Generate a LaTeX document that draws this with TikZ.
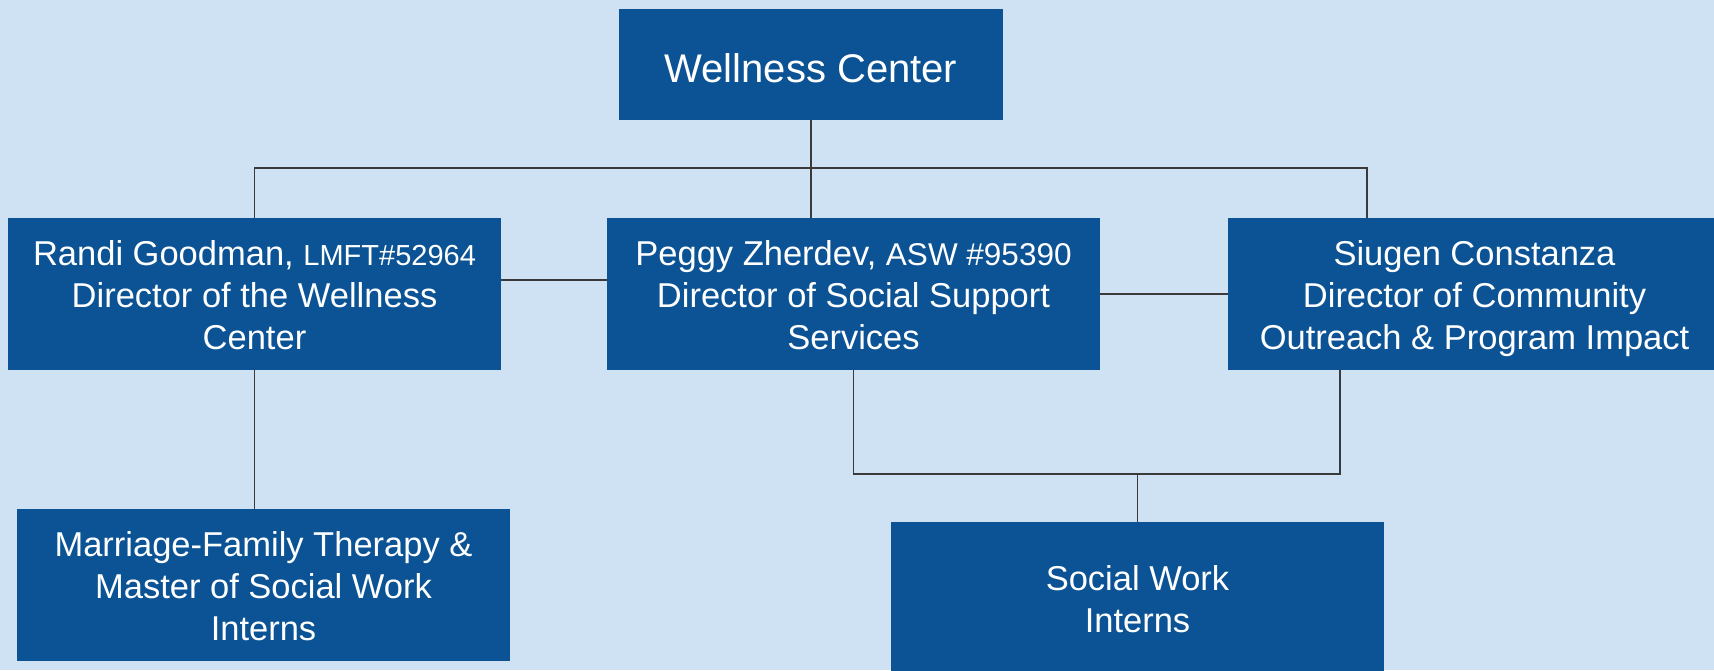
\documentclass[tikz,border=0pt]{standalone}
\usepackage{fontspec}
\setmainfont{Liberation Sans}
\definecolor{bg}{HTML}{CFE2F3}
\definecolor{boxblue}{HTML}{0B5394}
\definecolor{linegray}{HTML}{3A3A3A}
\newcommand\mystrut{\rule[-6.3pt]{0pt}{40.5pt}}
\newcommand\wcstrut{\rule[-4.1pt]{0pt}{44.7pt}}
\begin{document}
\begin{tikzpicture}[x=1pt,y=-1pt,
  orgbox/.style={fill=boxblue,text=white,inner sep=0pt,minimum width=493pt,
    minimum height=152pt,align=center,font=\fontsize{34.5}{42}\selectfont},
  link/.style={draw=linegray,line width=1.5pt}]
\useasboundingbox (0,0) rectangle (1714,670);
\fill[bg] (0,0) rectangle (1714,670);
\clip (0,0) rectangle (1714,670);

\node[orgbox,minimum width=384pt,minimum height=111pt,font=\fontsize{40}{46}\selectfont] (wc) at (811,64.5) {\wcstrut Wellness Center};
\node[orgbox] (randi) at (254.5,294) {\mystrut Randi Goodman, {\fontsize{29}{42}\selectfont LMFT\#52964}\\\mystrut Director of the Wellness\\\mystrut Center};
\node[orgbox] (peggy) at (853.5,294) {\mystrut Peggy Zherdev, {\fontsize{31.5}{42}\selectfont ASW \#95390}\\\mystrut Director of Social Support\\\mystrut Services};
\node[orgbox] (siugen) at (1474.5,294) {\mystrut Siugen Constanza\\\mystrut Director of Community\\\mystrut Outreach \& Program Impact};
\node[orgbox] (mft) at (263.5,585) {\mystrut Marriage-Family Therapy \&\\\mystrut Master of Social Work\\\mystrut Interns};
\node[orgbox] (swi) at (1137.5,598) {\mystrut Social Work\\\mystrut Interns};

\coordinate (busR) at (1367,168);
\coordinate (rp) at (501,280);
\coordinate (sr) at (1340,474);

\draw[link] (wc.south) -- (wc.south |- peggy.north);
\draw[link] (randi.north) |- (busR) -- (busR |- siugen.north);
\draw[link] (randi.east |- rp) -- (peggy.west |- rp);
\draw[link] (peggy.east) -- (siugen.west);
\draw[link] (randi.south) -- (randi.south |- mft.north);
\draw[link] (peggy.south) |- (sr) -- (sr |- siugen.south);
\draw[link] (swi.north |- sr) -- (swi.north);
\end{tikzpicture}
\end{document}
